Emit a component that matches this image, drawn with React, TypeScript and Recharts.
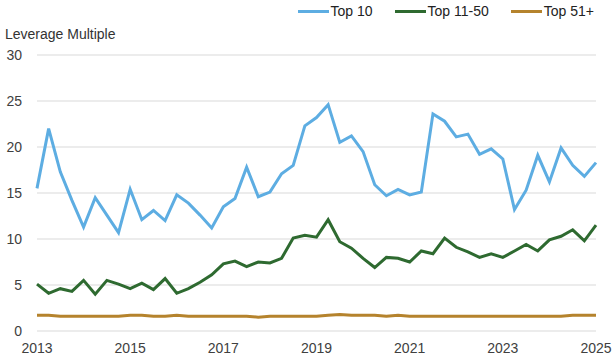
import { LineChart, Line, XAxis, YAxis, CartesianGrid } from 'recharts';

const quarters = [
  '2013Q1', '2013Q2', '2013Q3', '2013Q4', '2014Q1', '2014Q2', '2014Q3', '2014Q4',
  '2015Q1', '2015Q2', '2015Q3', '2015Q4', '2016Q1', '2016Q2', '2016Q3', '2016Q4',
  '2017Q1', '2017Q2', '2017Q3', '2017Q4', '2018Q1', '2018Q2', '2018Q3', '2018Q4',
  '2019Q1', '2019Q2', '2019Q3', '2019Q4', '2020Q1', '2020Q2', '2020Q3', '2020Q4',
  '2021Q1', '2021Q2', '2021Q3', '2021Q4', '2022Q1', '2022Q2', '2022Q3', '2022Q4',
  '2023Q1', '2023Q2', '2023Q3', '2023Q4', '2024Q1', '2024Q2', '2024Q3', '2024Q4',
  '2025Q1',
];

const top10 = [
  15.5, 22.0, 17.3, 14.2, 11.3, 14.5, 12.6, 10.7, 15.4, 12.1, 13.1, 12.0, 14.8, 13.9, 12.6, 11.2,
  13.5, 14.4, 17.8, 14.6, 15.1, 17.1, 18.0, 22.3, 23.2, 24.6, 20.5, 21.2, 19.5, 15.9, 14.7, 15.4,
  14.8, 15.1, 23.6, 22.8, 21.1, 21.4, 19.2, 19.8, 18.7, 13.2, 15.3, 19.1, 16.2, 19.9, 18.0, 16.8,
  18.3,
];

const top11to50 = [
  5.1, 4.1, 4.6, 4.3, 5.5, 4.0, 5.5, 5.1, 4.6, 5.2, 4.5, 5.7, 4.1, 4.6, 5.3, 6.1,
  7.3, 7.6, 7.0, 7.5, 7.4, 7.9, 10.1, 10.4, 10.2, 12.1, 9.7, 9.0, 7.9, 6.9, 8.0, 7.9,
  7.5, 8.7, 8.4, 10.1, 9.1, 8.6, 8.0, 8.4, 8.0, 8.7, 9.4, 8.7, 9.9, 10.3, 11.0, 9.8,
  11.5,
];

const top51plus = [
  1.7, 1.7, 1.6, 1.6, 1.6, 1.6, 1.6, 1.6, 1.7, 1.7, 1.6, 1.6, 1.7, 1.6, 1.6, 1.6,
  1.6, 1.6, 1.6, 1.5, 1.6, 1.6, 1.6, 1.6, 1.6, 1.7, 1.8, 1.7, 1.7, 1.7, 1.6, 1.7,
  1.6, 1.6, 1.6, 1.6, 1.6, 1.6, 1.6, 1.6, 1.6, 1.6, 1.6, 1.6, 1.6, 1.6, 1.7, 1.7,
  1.7,
];

const yTicks = [0, 5, 10, 15, 20, 25, 30];

const series = [
  { key: 'top10', name: 'Top 10', color: '#5dade2' },
  { key: 'top11to50', name: 'Top 11-50', color: '#2e6a30' },
  { key: 'top51plus', name: 'Top 51+', color: '#b5832d' },
];

const data = quarters.map((q, i) => ({
  quarter: q,
  top10: top10[i],
  top11to50: top11to50[i],
  top51plus: top51plus[i],
}));

export default function App() {
  return (
    <div style={{ position: 'absolute', left: 0, top: 0, width: 614, height: 364, fontFamily: '"Liberation Sans", Arial, sans-serif' }}>
      <div style={{ position: 'absolute', left: 5, top: 26, fontSize: 14, color: '#333' }}>Leverage Multiple</div>
      {/* legend drawn as plain html so it doesn't push the plot down */}
      <div style={{ position: 'absolute', top: 3, right: 20, display: 'flex', alignItems: 'center' }}>
        {series.map((s) => (
          <div key={s.key} style={{ display: 'flex', alignItems: 'center', marginLeft: 22 }}>
            <div style={{ width: 31, height: 3, background: s.color, marginRight: 2 }} />
            <span style={{ fontSize: 14, color: '#222' }}>{s.name}</span>
          </div>
        ))}
      </div>
      <LineChart width={614} height={364} data={data} margin={{ top: 55, right: 18, left: 0, bottom: 8 }}>
        <CartesianGrid vertical={false} stroke="#d9d9d9" />
        <XAxis
          dataKey="quarter"
          interval={7}
          axisLine={false}
          tickLine={false}
          tickSize={10}
          tickMargin={2}
          height={25}
          tick={{ fontSize: 14, fill: '#404040' }}
          tickFormatter={(v: string) => v.slice(0, 4)}
        />
        <YAxis
          domain={[0, 30]}
          ticks={yTicks}
          width={37}
          axisLine={false}
          tickLine={false}
          tickSize={13}
          tickMargin={2}
          tick={{ fontSize: 14, fill: '#404040' }}
        />
        {series.map((s) => (
          <Line
            key={s.key}
            dataKey={s.key}
            name={s.name}
            stroke={s.color}
            strokeWidth={3}
            dot={false}
            isAnimationActive={false}
          />
        ))}
      </LineChart>
    </div>
  );
}
